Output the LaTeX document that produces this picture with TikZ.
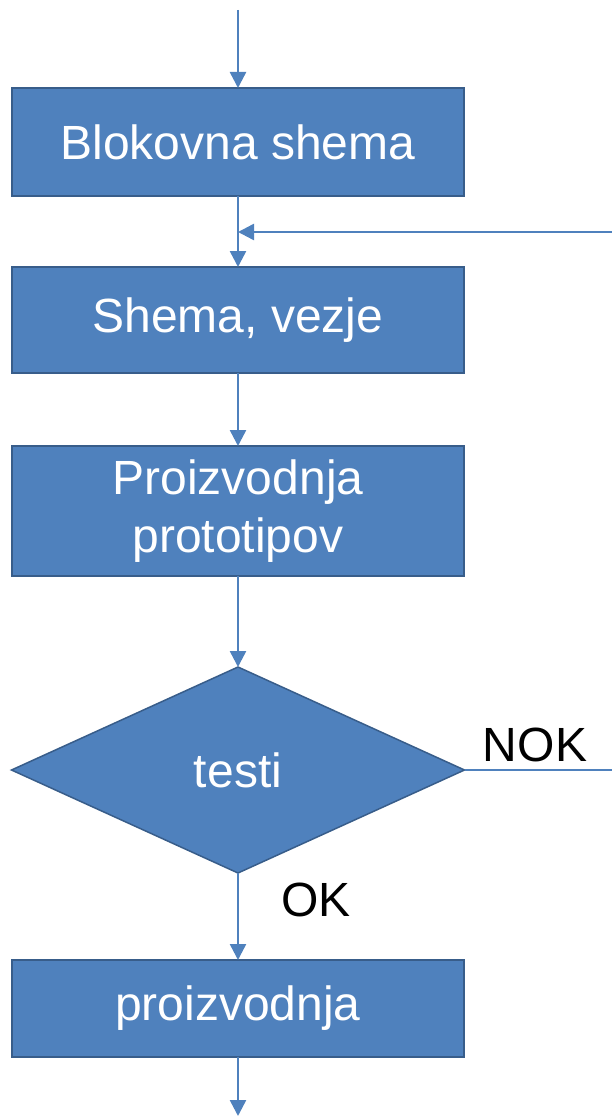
\documentclass[tikz,border=0pt]{standalone}
\usepackage{fontspec}
\setmainfont{Liberation Sans}
\usepackage{tikz}
\usetikzlibrary{arrows.meta, shapes, calc}

\definecolor{boxBlue}{HTML}{4F81BD}
\definecolor{boxEdge}{HTML}{385D8A}

\begin{document}
\begin{tikzpicture}[x=1pt, y=-1pt]

    % Page frame
    \useasboundingbox (0, 0) rectangle (612, 1118);

    % Flow chart styles
    \tikzset{bS/.style={draw=boxEdge, fill=boxBlue, line width=1.5pt, shape=rectangle, inner sep=0pt, outer sep=0pt, minimum width=452pt, text=white, align=center, font=\fontsize{48}{58}\selectfont}}
    \tikzset{dS/.style={bS, shape=diamond, minimum width=453pt, minimum height=206pt, aspect=2.2}}
    \tikzset{aS/.style={draw=boxBlue, line width=2.5pt, -{Triangle[length=16pt, width=16pt]}}}
    \tikzset{nS/.style={draw=boxBlue, line width=1.5pt}}
    \tikzset{lS/.style={text=black, font=\fontsize{48}{58}\selectfont}}

    % Blocks
    \coordinate (in) at (238, 10);
    \node (blok) [bS, minimum height=108pt] at (238, 142) {Blokovna shema};
    	\node (shema) [bS, minimum height=106pt] at (238, 320) {Shema, vezje};
    		\node (proto) [bS, minimum height=130pt] at (238, 511) {Proizvodnja\\prototipov};
    			\node (test) [dS] at (238, 770) {testi};
    				\node (proiz) [bS, minimum height=97pt] at (238, 1008.5) {proizvodnja};
    \coordinate (out) at (238, 1116);
    \coordinate (fb) at (612, 232);
    \coordinate (nok) at (612, 770);

    % Labels
    \node (lok) [lS] at (316, 900) {OK};
    \node (lnok) [lS] at (535, 745) {NOK};

    % Connectors
    \draw[aS] (in) -- (blok);
    \draw[aS] (blok) -- (shema);
    \draw[aS] (fb) -- (fb -| blok.south);
    \draw[aS] (shema) -- (proto);
    \draw[aS] (proto) -- (test);
    \draw[aS] (test) -- (proiz);
    \draw[nS] (test.east) -- (nok);
    \draw[aS] (proiz) -- (out);

\end{tikzpicture}
\end{document}
